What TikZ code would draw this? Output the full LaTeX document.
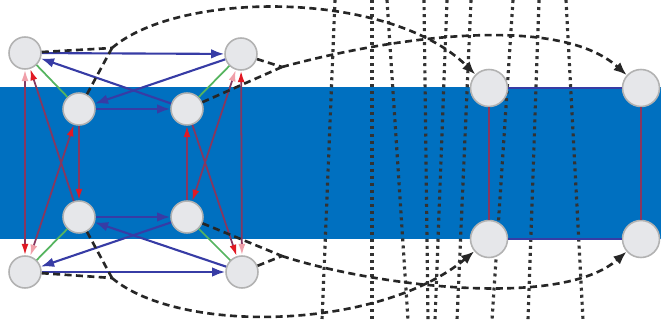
\documentclass[tikz,border=0pt]{standalone}
\usetikzlibrary{arrows.meta}
\definecolor{bandblue}{RGB}{0,112,192}
\definecolor{nodegray}{RGB}{230,231,234}
\definecolor{edgeblue}{RGB}{55,60,165}
\definecolor{edgered}{RGB}{135,55,95}
\definecolor{tipred}{RGB}{225,25,35}
\definecolor{tippink}{RGB}{240,160,170}
\definecolor{edgegreen}{RGB}{85,180,95}
\begin{document}
\begin{tikzpicture}[x=0.02cm, y=-0.02cm,
  vertex/.style={circle, draw=gray!60, line width=0.9pt, fill=nodegray, minimum size=0.64cm, inner sep=0pt},
  bigvertex/.style={vertex, minimum size=0.74cm},
  blueedge/.style={line width=1.2pt, edgeblue, -{Latex[length=7.5pt,width=5.5pt]}},
  rededge/.style={line width=1pt, edgered, -{Latex[length=6.5pt,width=4pt,color=tipred]}},
  redboth/.style={line width=1pt, edgered, {Latex[length=6.5pt,width=4pt,color=tippink]}-{Latex[length=6.5pt,width=4pt,color=tipred]}},
  greenedge/.style={line width=1pt, edgegreen},
  dashline/.style={line width=1.5pt, black!85, dash pattern=on 4pt off 2.5pt},
  dotline/.style={line width=1.8pt, black!80, dash pattern=on 1.7pt off 2.3pt}]
	\useasboundingbox (0,0) rectangle (661,320);
	% Band
	\fill[bandblue] (0,87) rectangle (661,239);
	% Dotted lines
	\foreach \xt/\xb in {335/322, 372/372, 387/408, 424/428, 447/435, 471/457, 513/492, 539/528, 566/583}
		\draw[dotline] (\xt,0) -- (\xb,320);
	% Left cluster, outer
	\node[vertex] (A) at (25,53) {};
	\node[vertex] (B) at (241,54) {};
	\node[vertex] (G) at (25,272) {};
	\node[vertex] (H) at (242,272) {};
	% Left cluster, inner
	\node[vertex] (C) at (79,109) {};
	\node[vertex] (D) at (187,109) {};
	\node[vertex] (E) at (79,217) {};
	\node[vertex] (F) at (187,217) {};
	% Right nodes
	\node[bigvertex] (R1) at (489,88) {};
	\node[bigvertex] (R2) at (641,88) {};
	\node[bigvertex] (R3) at (489,239) {};
	\node[bigvertex] (R4) at (641,239) {};
	% Junctions
	\coordinate (jTop) at (112,48);
	\coordinate (jTopR) at (282,67);
	\coordinate (jBot) at (112,278);
	\coordinate (jBotR) at (282,256);
	% Red edges
	\draw[redboth] (A) -- (G);
	\draw[redboth] (G) -- (C);
	\draw[rededge] (E) -- (A);
	\draw[rededge] (C) -- (E);
	\draw[redboth] (H) -- (B);
	\draw[redboth] (B) -- (F);
	\draw[rededge] (D) -- (H);
	\draw[rededge] (F) -- (D);
	% Green edges
	\draw[greenedge] (A) -- (C);
	\draw[greenedge] (B) -- (D);
	\draw[greenedge] (E) -- (G);
	\draw[greenedge] (F) -- (H);
	% Blue edges
	\draw[blueedge] (A) -- (B);
	\draw[blueedge] (D) -- (A);
	\draw[blueedge] (B) -- (C);
	\draw[blueedge] (C) -- (D);
	\draw[blueedge] (E) -- (F);
	\draw[blueedge] (F) -- (G);
	\draw[blueedge] (H) -- (E);
	\draw[blueedge] (G) -- (H);
	% Right edges
	\draw[line width=1.2pt, edgeblue] (R1) -- (R2);
	\draw[line width=1.2pt, edgeblue] (R3) -- (R4);
	\draw[line width=1pt, edgered] (R1) -- (R3);
	\draw[line width=1pt, edgered] (R2) -- (R4);
	% Dashed arcs
	\draw[dashline] (A) -- (jTop);
	\draw[dashline] (C) -- (jTop);
	\draw[dashline, -{Latex[length=7.5pt,width=6pt]}] (jTop) .. controls (180,-10) and (390,-10) .. (R1);
	\draw[dashline] (B) -- (jTopR);
	\draw[dashline] (D) -- (jTopR);
	\draw[dashline, -{Latex[length=7.5pt,width=6pt]}] (jTopR) .. controls (400,35) and (560,15) .. (R2);
	\draw[dashline] (G) -- (jBot);
	\draw[dashline] (E) -- (jBot);
	\draw[dashline, -{Latex[length=7.5pt,width=6pt]}] (jBot) .. controls (180,335) and (380,330) .. (R3);
	\draw[dashline] (H) -- (jBotR);
	\draw[dashline] (F) -- (jBotR);
	\draw[dashline, -{Latex[length=7.5pt,width=6pt]}] (jBotR) .. controls (370,285) and (560,310) .. (R4);
\end{tikzpicture}
\end{document}
